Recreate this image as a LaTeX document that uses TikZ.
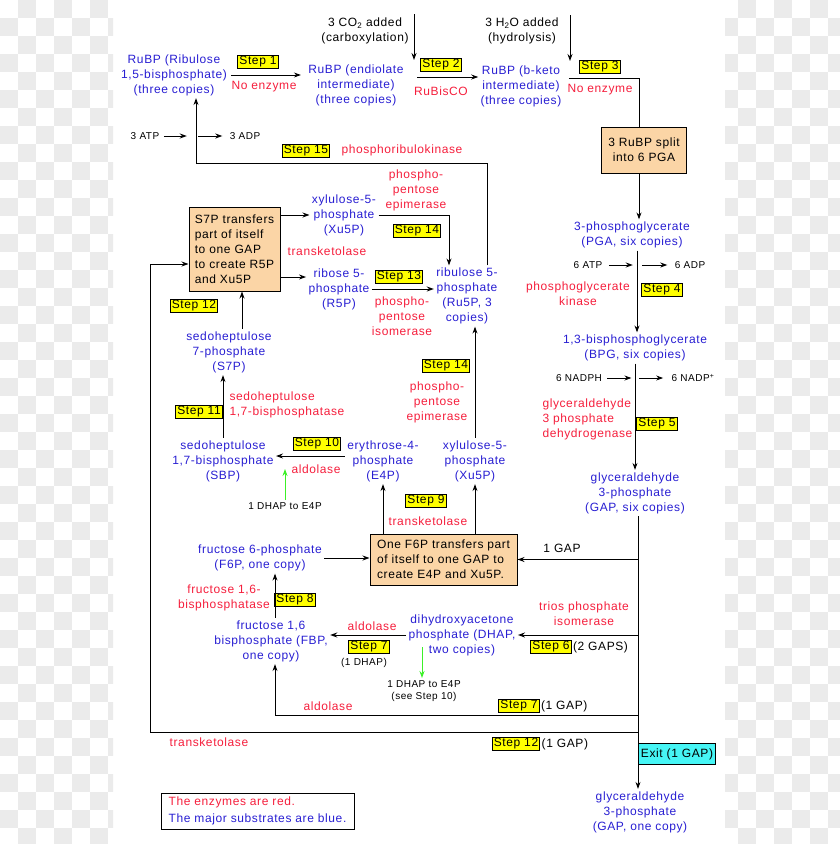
\documentclass[tikz,border=0pt]{standalone}
\usepackage{fontspec}
\setmainfont{Liberation Sans}[LetterSpace=5]
\usetikzlibrary{arrows.meta}
\definecolor{subblue}{RGB}{40,30,210}
\definecolor{enzred}{RGB}{245,30,60}
\definecolor{boxtan}{RGB}{251,213,166}
\definecolor{stepyellow}{RGB}{255,255,0}
\definecolor{exitcyan}{RGB}{70,245,245}
\definecolor{dhapgreen}{RGB}{60,240,40}
\definecolor{checkgray}{RGB}{235,235,235}

\begin{document}
\begin{tikzpicture}[x=1pt, y=-1pt, line width=1pt,
  >={Stealth[length=7pt,width=5pt]},
  font=\fontsize{12}{15}\selectfont,
  sub/.style={text=subblue, align=center, inner sep=2pt},
  enz/.style={text=enzred, align=center, inner sep=2pt},
  stepbox/.style={draw, fill=stepyellow, inner sep=1.5pt},
  note/.style={font=\fontsize{10}{12}\selectfont, inner sep=2pt, align=center},
  plain/.style={inner sep=2pt, align=center},
  proc/.style={draw, fill=boxtan, align=left, inner sep=3pt}]
  \useasboundingbox (0,0) rectangle (840,844);
  % checkered margins
  \begin{scope}
    \clip (0,0) rectangle (113,844);
    \foreach \j in {0,...,46} {
      \pgfmathtruncatemacro\off{1-mod(\j,2)}
      \foreach \k in {0,2,4,6}
        \fill[checkgray] ({(\k+\off)*18},{\j*18}) rectangle ++(18,18);
    }
  \end{scope}
  \begin{scope}
    \clip (725,0) rectangle (840,844);
    \foreach \j in {0,...,46} {
      \pgfmathtruncatemacro\off{1-mod(\j,2)}
      \foreach \k in {40,42,44,46}
        \fill[checkgray] ({(\k+\off)*18},{\j*18}) rectangle ++(18,18);
    }
  \end{scope}

  % top row: carboxylation
  \node[sub] (rubp) at (174,75) {RuBP (Ribulose\\1,5-bisphosphate)\\(three copies)};
  \node[stepbox] (st1) at (258,62) {Step 1};
  \node[enz] (ne1) at (264,87) {No enzyme};
  \node[sub] (endio) at (356,85) {RuBP (endiolate\\intermediate)\\(three copies)};
  \node[plain] (co2) at (365,31) {3 CO\textsubscript{2} added\\(carboxylation)};
  \node[stepbox] (st2) at (441,65) {Step 2};
  \node[enz] (rbc) at (441,91) {RuBisCO};
  \node[sub] (keto) at (521,86) {RuBP (b-keto\\intermediate)\\(three copies)};
  \node[plain] (h2o) at (522,31) {3 H\textsubscript{2}O added\\(hydrolysis)};
  \node[stepbox] (st3) at (600,67) {Step 3};
  \node[enz] (ne3) at (600,90) {No enzyme};
  \node[proc, align=center, minimum width=85pt, minimum height=46pt] (split) at (644,150) {3 RuBP split\\into 6 PGA};

  % reduction
  \node[sub] (pga) at (632,235) {3-phosphoglycerate\\(PGA, six copies)};
  \node[note] (atp6) at (588,265) {6 ATP};
  \node[note] (adp6) at (690,265) {6 ADP};
  \node[enz] (pgk) at (578,294) {phosphoglycerate\\kinase};
  \node[stepbox] (st4) at (662,290) {Step 4};
  \node[sub] (bpg) at (635,348) {1,3-bisphosphoglycerate\\(BPG, six copies)};
  \node[note] (nadph) at (579,378) {6 NADPH};
  \node[note] (nadp) at (693,378) {6 NADP\textsuperscript{+}};
  \node[enz, align=left, anchor=west] (gapdh) at (540,419) {glyceraldehyde\\3 phosphate\\dehydrogenase};
  \node[stepbox] (st5) at (657,424) {Step 5};
  \node[sub] (gap6) at (635,493) {glyceraldehyde\\3-phosphate\\(GAP, six copies)};

  % GAP branches
  \node[plain] (gapin) at (562,548) {1 GAP};
  \node[enz] (tpi) at (584,614) {trios phosphate\\isomerase};
  \node[stepbox] (st6) at (551,647) {Step 6};
  \node[plain, anchor=west, inner sep=1pt] (gaps2) at (st6.east) {(2 GAPS)};
  \node[stepbox] (st7b) at (519,706) {Step 7};
  \node[plain, anchor=west, inner sep=1pt] (gap7) at (st7b.east) {(1 GAP)};
  \node[enz] (ald7) at (328,706) {aldolase};
  \node[stepbox] (st12b) at (516,744) {Step 12};
  \node[plain, anchor=west, inner sep=1pt] (gap12) at (st12b.east) {(1 GAP)};
  \node[enz] (tk12) at (209,742) {transketolase};
  \node[draw, fill=exitcyan, minimum width=73pt, minimum height=21pt, inner sep=2pt] (exit) at (677,754) {Exit (1 GAP)};
  \node[sub] (gap1) at (640,812) {glyceraldehyde\\3-phosphate\\(GAP, one copy)};
  \node[draw, align=left, font=\fontsize{12}{17}\selectfont, minimum width=193pt, minimum height=36pt, inner sep=2pt] (legend) at (257.5,811)
    {\textcolor{enzred}{The enzymes are red.}\\\textcolor{subblue}{The major substrates are blue.}};

  % regeneration
  \node[proc, minimum width=147pt, minimum height=51pt] (f6pbox) at (443.5,559.5) {One F6P transfers part\\of itself to one GAP to\\create E4P and Xu5P.};
  \node[sub] (f6p) at (260,558) {fructose 6-phosphate\\(F6P, one copy)};
  \node[sub] (fbp) at (271,641) {fructose 1,6\\bisphosphate (FBP,\\one copy)};
  \node[enz] (fbpase) at (224,598) {fructose 1,6-\\bisphosphatase};
  \node[stepbox] (st8) at (295,600) {Step 8};
  \node[sub] (dhap) at (462,635) {dihydroxyacetone\\phosphate (DHAP,\\two copies)};
  \node[enz] (ald6) at (372,626) {aldolase};
  \node[stepbox] (st7a) at (369,647) {Step 7};
  \node[note] (dhap1) at (364,663) {(1 DHAP)};
  \node[note] (dhapto) at (424,691) {1 DHAP to E4P\\(see Step 10)};
  \node[sub] (e4p) at (383,461) {erythrose-4-\\phosphate\\(E4P)};
  \node[sub] (xu5pb) at (475,461) {xylulose-5-\\phosphate\\(Xu5P)};
  \node[stepbox] (st9) at (426,501) {Step 9};
  \node[enz] (tk9) at (428,521) {transketolase};
  \node[stepbox] (st14b) at (446,366) {Step 14};
  \node[enz] (epi2) at (437,402) {phospho-\\pentose\\epimerase};
  \node[sub] (sbp) at (223,461) {sedoheptulose\\1,7-bisphosphate\\(SBP)};
  \node[stepbox] (st10) at (317,444) {Step 10};
  \node[enz] (ald10) at (316,469) {aldolase};
  \node[note] (dhapto2) at (285,506) {1 DHAP to E4P};
  \node[stepbox] (st11) at (199,412) {Step 11};
  \node[enz, align=left, anchor=west] (sbpase) at (227,405) {sedoheptulose\\1,7-bisphosphatase};
  \node[sub] (s7p) at (229,352) {sedoheptulose\\7-phosphate\\(S7P)};
  \node[stepbox] (st12) at (194,306) {Step 12};
  \node[proc, minimum width=91pt, minimum height=84pt] (s7pbox) at (234.5,249) {S7P transfers\\part of itself\\to one GAP\\to create R5P\\and Xu5P};
  \node[sub] (xu5pa) at (344,215) {xylulose-5-\\phosphate\\(Xu5P)};
  \node[enz] (tk13) at (327,251) {transketolase};
  \node[sub] (r5p) at (339,289) {ribose 5-\\phosphate\\(R5P)};
  \node[sub] (ru5p) at (467,296) {ribulose 5-\\phosphate\\(Ru5P, 3\\copies)};
  \node[stepbox] (st13) at (399,277) {Step 13};
  \node[enz] (iso) at (402,316) {phospho-\\pentose\\isomerase};
  \node[enz] (epi1) at (416,190) {phospho-\\pentose\\epimerase};
  \node[stepbox] (st14a) at (417,231) {Step 14};
  \node[note] (atp3) at (145,136) {3 ATP};
  \node[note] (adp3) at (245,136) {3 ADP};
  \node[stepbox] (st15) at (306,151) {Step 15};
  \node[enz, anchor=west] (prk) at (339,150) {phosphoribulokinase};

  % connectors, top row
  \coordinate (co2top) at (414,14);
  \coordinate (co2end) at (414,60);
  \coordinate (h2otop) at (570,15);
  \coordinate (h2oend) at (570,61);
  \draw[->] ([xshift=2pt]rubp.east) -- ([xshift=-5pt]rubp.east -| endio.west);
  \draw[->] (co2top) -- (co2end);
  \draw[->] ([xshift=11pt,yshift=8pt]endio.east) -- ([yshift=8pt]endio.east -| keto.west);
  \draw[->] (h2otop) -- (h2oend);
  \draw ([xshift=5pt,yshift=8pt]keto.east) -| ([xshift=-5pt]split.north);

  % connectors, right column
  \draw[->] ([xshift=-5pt]split.south) -- ([xshift=-5pt]split.south |- pga.north);
  \draw[->] ([xshift=5pt]pga.south) -- ([xshift=5pt]pga.south |- bpg.north);
  \draw[->] ([xshift=4pt]atp6.east) -- ++(24,0);
  \draw[->] ([xshift=-30pt]adp6.west) -- ([xshift=-5pt]adp6.west);
  \draw[->] (bpg.south) -- (bpg.south |- gap6.north);
  \draw[->] ([xshift=3pt]nadph.east) -- ++(24,0);
  \draw[->] ([xshift=-30pt]nadp.west) -- ([xshift=-6pt]nadp.west);
  \coordinate (trunk) at ([xshift=3pt]gap6.south);
  \coordinate (j7) at (trunk |- 0,715);
  \coordinate (j12) at (trunk |- 0,732);
  \coordinate (loop) at (150,264);
  \draw[->] (trunk) -- (trunk |- gap1.north);
  \draw[->] (trunk |- f6pbox.east) -- (f6pbox.east);
  \draw[->] (trunk |- dhap.east) -- (dhap.east);
  \draw[->] (j7) -| ([xshift=4pt]fbp.south);
  \draw[->] (j12) -| (loop) -- (loop -| s7pbox.west);

  % connectors, regeneration
  \draw[->] (f6p.east) -- (f6p.east -| f6pbox.west);
  \draw[->] ([xshift=4pt]fbp.north) -- ([xshift=4pt]fbp.north |- f6p.south);
  \draw[->] (dhap.west) -- (dhap.west -| fbp.east);
  \draw[->, dhapgreen] ([xshift=-2pt]dhapto.north |- 0,647) -- ([xshift=-2pt]dhapto.north);
  \draw[->] (f6pbox.north -| e4p) -- (e4p.south);
  \draw[->] (f6pbox.north -| xu5pb) -- (xu5pb.south);
  \draw[->] (xu5pb.north) -- (xu5pb.north |- ru5p.south);
  \draw[->] ([yshift=5pt]e4p.west) -- ([yshift=5pt]e4p.west -| sbp.east);
  \draw[->, dhapgreen] (dhapto2.north) -- (dhapto2.north |- ald10);
  \draw[->] (sbp.north) -- (sbp.north |- s7p.south);
  \draw[->] ([xshift=13pt]s7p.north) -- ([xshift=13pt]s7p.north |- s7pbox.south);
  \coordinate (r5pin) at ([yshift=12pt]r5p.west);
  \draw[->] (xu5pa.west -| s7pbox.east) -- (xu5pa.west);
  \draw[->] (r5pin -| s7pbox.east) -- (r5pin);
  \draw[->] (r5p.east) -- (r5p.east -| ru5p.west);
  \draw[->] (xu5pa.east) -| ([xshift=-18pt]ru5p.north);
  \coordinate (prkc) at (196,163);
  \draw[->] ([xshift=20pt]ru5p.north) |- (prkc) -- (prkc |- rubp.south);
  \draw[->] ([xshift=2pt]atp3.east) -- ++(23,0);
  \draw[->] ([xshift=-29pt]adp3.west) -- ([xshift=-5pt]adp3.west);
\end{tikzpicture}
\end{document}
